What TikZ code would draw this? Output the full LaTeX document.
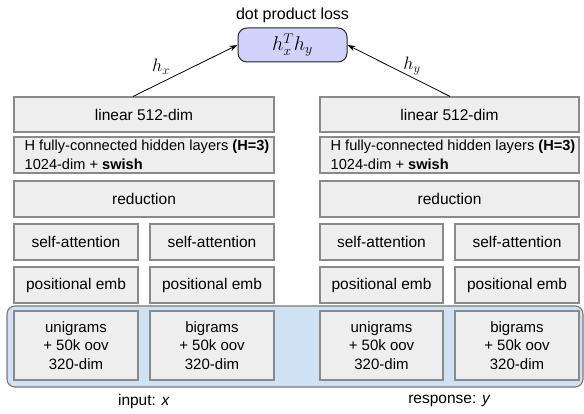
\RequirePackage{fix-cm}
\documentclass[tikz,border=0pt]{standalone}
\usepackage{fontspec}
\setmainfont{Liberation Sans}
\usetikzlibrary{arrows.meta}
\definecolor{boxfill}{RGB}{238,238,238}
\definecolor{boxline}{RGB}{138,138,138}
\definecolor{bgfill}{RGB}{207,226,243}
\definecolor{bgline}{RGB}{120,120,120}
\definecolor{lossfill}{RGB}{207,210,250}
\begin{document}
\begin{tikzpicture}[x=1pt,y=-1pt,
  box/.style={draw=boxline, fill=boxfill, line width=1.1pt, inner sep=0pt,
    font=\fontsize{15.5}{19}\selectfont, align=center},
  wide/.style={box, minimum width=260pt, minimum height=35pt},
  half/.style={box, minimum width=124pt, minimum height=35pt},
  emb/.style={box, minimum width=124pt, minimum height=69pt, font=\fontsize{15}{18.5}\selectfont},
  hidtext/.style={anchor=west, xshift=11pt, inner sep=0pt, align=left, font=\fontsize{14.6}{19}\selectfont},
  bgbox/.style={draw=bgline, fill=bgfill, line width=1.1pt, rounded corners=8pt, inner sep=0pt},
  lossbox/.style={draw=black!85, fill=lossfill, line width=1pt, rounded corners=9pt,
    minimum width=109pt, minimum height=34pt, inner sep=0pt, font=\fontsize{20}{24}\selectfont},
  lbl/.style={inner sep=0pt, font=\fontsize{15.5}{18}\selectfont},
  mlbl/.style={inner sep=0pt, font=\fontsize{18}{22}\selectfont},
  arr/.style={-{Stealth[length=8pt,width=5.5pt]}, line width=0.8pt, black}]
\useasboundingbox (0,0) rectangle (584,414);

% input background
\node[bgbox, minimum width=576pt, minimum height=81pt] (inputs) at (295,346.5) {};

% loss
\node[lbl, font=\fontsize{16}{18}\selectfont] (losslabel) at (292.5,15) {dot product loss};
\node[lossbox] (loss) at (292.5,45) {$h_x^T h_y$};

% left tower
\node[wide] (lin1) at (144,114.5) {linear 512-dim};
\node[wide, minimum height=36pt,
  label={[hidtext]west:H fully-connected hidden layers \textbf{(H=3)}\\1024-dim + \textbf{swish}}]
  (hid1) at (144,155) {};
\node[wide, minimum height=36pt] (red1) at (144,199) {reduction};
\node[half, minimum height=36pt] (sa1a) at (76,242) {self-attention};
\node[half, minimum height=36pt] (sa1b) at (212,242) {self-attention};
\node[half, minimum height=36pt] (pe1a) at (76,285) {positional emb};
\node[half, minimum height=36pt] (pe1b) at (212,285) {positional emb};
\node[emb] (un1) at (76,345.5) {unigrams\\+ 50k oov\\320-dim};
\node[emb] (bi1) at (212,345.5) {bigrams\\+ 50k oov\\320-dim};

% right tower
\node[wide, minimum width=259pt] (lin2) at (449.5,114.5) {linear 512-dim};
\node[wide, minimum width=259pt, minimum height=36pt,
  label={[hidtext]west:H fully-connected hidden layers \textbf{(H=3)}\\1024-dim + \textbf{swish}}]
  (hid2) at (449.5,155) {};
\node[wide, minimum width=259pt, minimum height=36pt] (red2) at (449.5,199) {reduction};
\node[half, minimum width=123pt, minimum height=36pt] (sa2a) at (381.5,242) {self-attention};
\node[half, minimum height=36pt] (sa2b) at (517,242) {self-attention};
\node[half, minimum width=123pt, minimum height=36pt] (pe2a) at (381.5,285) {positional emb};
\node[half, minimum height=36pt] (pe2b) at (517,285) {positional emb};
\node[emb, minimum width=123pt] (un2) at (381.5,345.5) {unigrams\\+ 50k oov\\320-dim};
\node[emb] (bi2) at (517,345.5) {bigrams\\+ 50k oov\\320-dim};

% arrows
\draw[arr] ([xshift=-11pt]lin1.north) -- (loss.west);
\draw[arr] ([xshift=0.5pt]lin2.north) -- (loss.east);
\node[mlbl] (hx) at (161,67) {$h_x$};
\node[mlbl] (hy) at (412,66) {$h_y$};

% captions
\node[lbl] (inx) at (144,401) {input: \textit{x}};
\node[lbl] (resy) at (449.5,401) {response: \textit{y}};
\end{tikzpicture}
\end{document}
